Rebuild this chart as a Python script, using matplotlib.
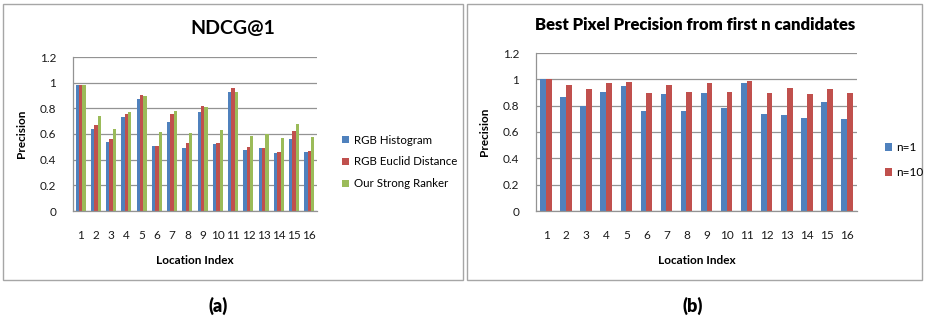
import matplotlib
matplotlib.use("Agg")
import matplotlib.pyplot as plt
from matplotlib.patches import Rectangle
import numpy as np

plt.rcParams['font.family'] = ['Lato', 'DejaVu Sans']

# ---- data ----
locations = [str(i) for i in range(1, 17)]

rgb_histogram = [0.984, 0.637, 0.540, 0.736, 0.869, 0.509, 0.697, 0.493,
                 0.773, 0.525, 0.930, 0.473, 0.493, 0.452, 0.564, 0.457]
rgb_euclid = [0.980, 0.674, 0.561, 0.752, 0.900, 0.509, 0.757, 0.533,
              0.817, 0.530, 0.961, 0.501, 0.493, 0.457, 0.621, 0.465]
strong_ranker = [0.980, 0.744, 0.637, 0.773, 0.893, 0.616, 0.780, 0.608,
                 0.809, 0.629, 0.930, 0.587, 0.598, 0.569, 0.681, 0.577]

n1 = [1.000, 0.867, 0.800, 0.902, 0.947, 0.759, 0.889, 0.759,
      0.894, 0.779, 0.975, 0.736, 0.729, 0.709, 0.830, 0.700]
n10 = [1.000, 0.955, 0.925, 0.975, 0.982, 0.897, 0.955, 0.902,
       0.970, 0.902, 0.987, 0.897, 0.932, 0.889, 0.925, 0.897]

yticks = [0, 0.2, 0.4, 0.6, 0.8, 1.0, 1.2]
ytick_labels = ["0", "0.2", "0.4", "0.6", "0.8", "1", "1.2"]

BLUE = "#4F81BD"
RED = "#C0504D"
GREEN = "#9BBB59"
GRID = "#939393"

W, H = 925, 323
fig = plt.figure(figsize=(W / 100, H / 100), dpi=100)


def px_axes(x0, y0, x1, y1):
    return fig.add_axes([x0 / W, 1 - y1 / H, (x1 - x0) / W, (y1 - y0) / H])


def style_axes(ax):
    ax.set_xlim(-0.5, 15.5)
    ax.set_ylim(0, 1.2)
    ax.set_yticks(yticks)
    ax.set_yticklabels(ytick_labels, fontsize=8.5)
    ax.set_xticks(np.arange(16))
    ax.set_xticklabels(locations, fontsize=8.5)
    ax.tick_params(axis='both', length=0, colors="#1a1a1a")
    ax.tick_params(axis='y', pad=12)
    ax.tick_params(axis='x', pad=14)
    for s in ("top", "right"):
        ax.spines[s].set_visible(False)
    for s in ("left", "bottom"):
        ax.spines[s].set_color(GRID)
        ax.spines[s].set_linewidth(0.9)
    ax.yaxis.grid(True, color=GRID, linewidth=0.9)
    ax.set_axisbelow(True)
    ax.set_xlabel("Location Index", fontsize=8.5, fontweight="bold", labelpad=10)
    ax.set_ylabel("Precision", fontsize=8.5, fontweight="bold", labelpad=9)


# panel frames
fig.patches.append(Rectangle((3 / W, 1 - 280 / H), 460 / W, 276 / H,
                             transform=fig.transFigure, fill=False,
                             edgecolor="#a6a6a6", linewidth=1.0))
fig.patches.append(Rectangle((467 / W, 1 - 280 / H), 455 / W, 276 / H,
                             transform=fig.transFigure, fill=False,
                             edgecolor="#a6a6a6", linewidth=1.0))

# ---- (a) NDCG@1 ----
ax1 = px_axes(73, 57, 317, 211)
x = np.arange(16)
bw = 1 / 4.5
ax1.bar(x - bw, rgb_histogram, bw, color=BLUE, label="RGB Histogram")
ax1.bar(x, rgb_euclid, bw, color=RED, label="RGB Euclid Distance")
ax1.bar(x + bw, strong_ranker, bw, color=GREEN, label="Our Strong Ranker")
style_axes(ax1)
fig.text(233 / W, 1 - 29 / H, "NDCG@1", ha="center", va="center",
         fontsize=14, fontweight="bold")
fig.legend(*ax1.get_legend_handles_labels(), loc="center left",
           bbox_to_anchor=(332 / W, 1 - 162 / H), frameon=False, fontsize=8.3,
           handlelength=0.6, handleheight=0.6, handletextpad=0.4,
           labelspacing=0.95)

# ---- (b) Best pixel precision ----
ax2 = px_axes(536, 53, 857, 211)
bw2 = 1 / 3.5
ax2.bar(x - bw2 / 2, n1, bw2, color=BLUE, label="n=1")
ax2.bar(x + bw2 / 2, n10, bw2, color=RED, label="n=10")
style_axes(ax2)
fig.text(695 / W, 1 - 25 / H, "Best Pixel Precision from first n candidates",
         ha="center", va="center", fontsize=12, fontweight="heavy")
fig.legend(*ax2.get_legend_handles_labels(), loc="center left",
           bbox_to_anchor=(874 / W, 1 - 160 / H), frameon=False, fontsize=8.5,
           handlelength=0.6, handleheight=0.6, handletextpad=0.4,
           labelspacing=1.2)

# sub-figure captions
fig.text(218 / W, 1 - 306 / H, "(a)", ha="center", va="center",
         fontsize=13, fontweight="heavy")
fig.text(693 / W, 1 - 306 / H, "(b)", ha="center", va="center",
         fontsize=13, fontweight="heavy")

fig.savefig("out.png", dpi=100)
